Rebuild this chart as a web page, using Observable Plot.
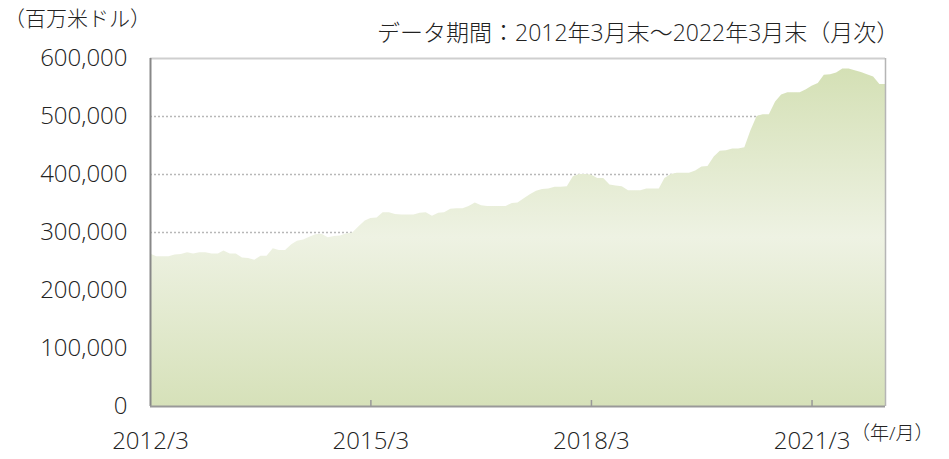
<!DOCTYPE html>
<html><head><meta charset="utf-8">
<script src="https://cdn.jsdelivr.net/npm/d3@7"></script>
<script src="https://cdn.jsdelivr.net/npm/@observablehq/plot@0.6"></script>
<style>
body{margin:0;background:#fff;font-family:"Open Sans","Noto Sans CJK JP",sans-serif;}
#wrap{position:relative;width:949px;height:459px;overflow:hidden}
.lbl{position:absolute;color:#222;white-space:nowrap;font-size:23px;line-height:1;font-weight:300;font-family:"Open Sans","Noto Sans CJK JP",sans-serif}
</style></head><body>
<div id="wrap">
<div class="lbl" style="left:4px;top:8px;font-size:21px">（百万米ドル）</div>
<div class="lbl" style="left:377px;top:21px">データ期間：2012年3月末～2022年3月末（月次）</div>
<div class="lbl" style="left:851px;top:424px;font-size:19px">（年/月）</div>
</div>
<script>
// Monthly values (million USD), from 2012/3 to 2022/3
const startYear = 2012;
const startMonth = 3;
const values = [
  263000, 258000, 258000, 258000, 261000, 262000, 265000, 263000, 265000, 265000,
  263000, 263000, 268000, 263000, 263000, 256000, 255000, 252000, 259000, 259000,
  272000, 269000, 269000, 279000, 285000, 287000, 292000, 296000, 297000, 291000,
  293000, 294000, 298000, 299000, 310000, 320000, 324000, 325000, 334000, 334000,
  331000, 330000, 330000, 330000, 333000, 334000, 328000, 333000, 334000, 340000,
  341000, 341000, 345000, 351000, 346000, 345000, 345000, 345000, 345000, 350000,
  351000, 358000, 365000, 371000, 374000, 375000, 378000, 378000, 379000, 396000,
  400000, 400000, 399000, 393000, 393000, 382000, 380000, 379000, 372000, 372000,
  372000, 375000, 375000, 375000, 393000, 400000, 402000, 402000, 402000, 406000,
  413000, 414000, 430000, 440000, 441000, 444000, 444000, 446000, 475000, 500000,
  503000, 503000, 525000, 537000, 541000, 541000, 541000, 546000, 552000, 557000,
  571000, 572000, 575000, 582000, 582000, 579000, 576000, 572000, 568000, 555000,
  555000
];
const yTicks = [0, 100000, 200000, 300000, 400000, 500000, 600000];
const gridValues = [100000, 200000, 300000, 400000, 500000];
const xTickLabels = ["2012/3", "2015/3", "2018/3", "2021/3"];

const toDate = (y, m) => new Date(Date.UTC(y, m - 1, 1));
const data = values.map((v, i) => ({date: toDate(startYear, startMonth + i), value: v}));
const xTicks = xTickLabels.map(s => { const [y, m] = s.split("/").map(Number); return toDate(y, m); });
const xStart = data[0].date, xEnd = data[data.length - 1].date;
const fmtX = d => `${d.getUTCFullYear()}/${d.getUTCMonth() + 1}`;

const gradient = () => {
  const defs = d3.create("svg:defs");
  const g = defs.append("linearGradient").attr("id", "gfill")
    .attr("x1", 0).attr("y1", 0).attr("x2", 0).attr("y2", 1);
  g.append("stop").attr("offset", "0%").attr("stop-color", "#d4e0b5");
  g.append("stop").attr("offset", "50%").attr("stop-color", "#eef2e3");
  g.append("stop").attr("offset", "100%").attr("stop-color", "#d6e1b9");
  return defs.node();
};

const chart = Plot.plot({
  width: 949,
  height: 459,
  marginLeft: 150,
  marginRight: 64,
  marginTop: 58,
  marginBottom: 53,
  style: {fontFamily: "'Open Sans', 'Noto Sans CJK JP', sans-serif", fontWeight: 300, color: "#222", background: "transparent"},
  x: {type: "utc", domain: [xStart, xEnd]},
  y: {domain: [0, 600000]},
  marks: [
    gradient,
    Plot.ruleY(gridValues, {stroke: "#b8b8b8", strokeWidth: 1.5, strokeDasharray: "2,2"}),
    Plot.areaY(data, {x: "date", y: "value", fill: "url(#gfill)"}),
    Plot.ruleY([600000], {stroke: "#cfcfcf", strokeWidth: 2}),
    Plot.ruleX([xEnd], {stroke: "#b5b5b5", strokeWidth: 1.5}),
    Plot.ruleX([xStart], {stroke: "#888", strokeWidth: 2}),
    Plot.ruleY([0], {stroke: "#999", strokeWidth: 2}),
    Plot.ruleX(xTicks.slice(1), {x: d => d, y1: 0, y2: 0, insetTop: -6, stroke: "#999", strokeWidth: 1.5}),
    Plot.axisY({ticks: yTicks, tickFormat: d3.format(","), tickSize: 0, tickPadding: 23, fontSize: 24, label: null}),
    Plot.axisX({ticks: xTicks, tickFormat: fmtX, tickSize: 0, tickPadding: 25, fontSize: 24, label: null})
  ]
});
chart.style.position = "absolute";
chart.style.left = "0";
chart.style.top = "0";
document.getElementById("wrap").prepend(chart);
</script>
</body></html>
